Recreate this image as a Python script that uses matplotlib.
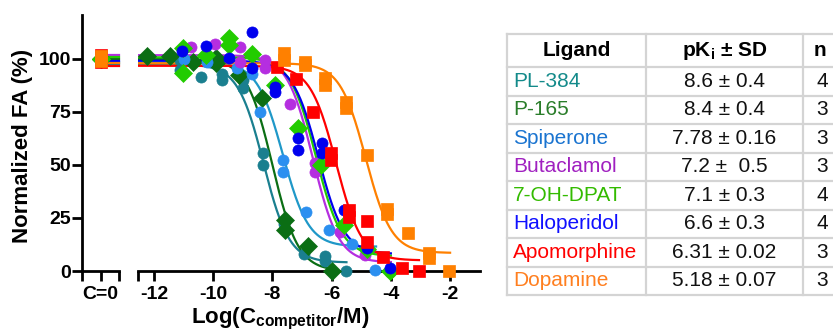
import numpy as np
import matplotlib
matplotlib.use('Agg')
import matplotlib.pyplot as plt

plt.rcParams['font.family'] = ['Liberation Sans', 'DejaVu Sans']
plt.rcParams['mathtext.fontset'] = 'custom'
plt.rcParams['mathtext.rm'] = 'Liberation Sans'
plt.rcParams['mathtext.bf'] = 'Liberation Sans:bold'
plt.rcParams['mathtext.it'] = 'Liberation Sans:italic'

# ---------------- data ----------------
ligands = ['PL-384', 'P-165', 'Spiperone', 'Butaclamol', '7-OH-DPAT',
           'Haloperidol', 'Apomorphine', 'Dopamine']
pki_text = ['8.6 ± 0.4', '8.4 ± 0.4', '7.78 ± 0.16', '7.2 ±  0.5', '7.1 ± 0.3',
            '6.6 ± 0.3', '6.31 ± 0.02', '5.18 ± 0.07']
n_text = ['4', '3', '3', '3', '4', '4', '3', '3']

pl384_x = [-11.12, -11.12, -10.40, -9.70, -9.70, -8.99, -8.99, -8.33, -8.33, -7.60, -6.95, -6.22, -6.22, -5.53]
pl384_y = [99.5, 95, 91.5, 93, 90, 90, 86.5, 55.5, 50, 22, 8, 7, 4.5, 0]
p165_x = [-12.24, -11.46, -10.68, -9.90, -9.90, -9.13, -8.35, -7.57, -7.57, -6.80, -6.00]
p165_y = [101.5, 101.5, 98.5, 100.5, 98, 92.5, 81.5, 24, 19.5, 12, 0]
spip_x = [-11.00, -10.20, -9.20, -8.70, -8.42, -7.64, -7.64, -6.86, -6.09, -5.30, -4.53]
spip_y = [100, 98.5, 95.8, 93, 75, 52.4, 46.7, 27.8, 19.3, 12.8, 0.3]
buta_x = [-10.75, -9.94, -9.09, -9.09, -8.25, -8.25, -7.41, -6.56, -6.56, -5.72, -4.88, -4.03]
buta_y = [105.5, 107, 105.5, 98.5, 99.5, 95.8, 79, 51, 46.5, 18.5, 7.5, -0.5]
dpat_x = [-11.02, -11.02, -10.24, -9.47, -9.47, -8.69, -7.91, -7.13, -6.36, -5.58, -4.80, -4.03]
dpat_y = [105, 93.5, 102, 110, 106.5, 102.5, 87.5, 67.5, 50, 21.5, 10.5, 0]
halo_x = [-11.05, -10.24, -9.47, -8.69, -8.69, -7.91, -7.91, -7.13, -7.13, -6.32, -6.32, -5.58, -4.80, -4.03]
halo_y = [104, 106, 100.5, 112.5, 95.8, 86.8, 84.4, 62.7, 57, 60.4, 55.7, 28.8, 10.8, 1.5]
apo_x = [-7.84, -7.20, -6.63, -6.02, -6.02, -5.41, -5.41, -4.82, -4.82, -4.25, -3.63, -3.04]
apo_y = [96.2, 90.5, 75, 55.7, 52.4, 29, 25.5, 23.7, 13.8, 6.8, 1.3, 0.2]
dopa_x = [-7.61, -7.61, -6.90, -6.90, -6.22, -6.22, -5.51, -5.51, -4.80, -4.13, -4.13, -3.41, -2.72, -2.72, -2.03]
dopa_y = [102.8, 99.5, 98.6, 97.2, 91, 87.7, 79.7, 76.9, 54.7, 29.2, 27, 18, 8.5, 6, 0]

xs = [pl384_x, p165_x, spip_x, buta_x, dpat_x, halo_x, apo_x, dopa_x]
ys = [pl384_y, p165_y, spip_y, buta_y, dpat_y, halo_y, apo_y, dopa_y]

# control (C=0) values
c0_y = [[100, 100], [100, 100], [100, 100], [100, 100], [100, 100],
        [100, 100], [98.5, 102], [99, 101.5]]

# one-site fit parameters
log_ic50 = [-8.30, -8.00, -7.65, -6.63, -6.53, -6.45, -5.85, -4.85]
fit_top = [97.5, 100, 98.5, 101.8, 100.8, 99.2, 96.8, 98.0]
fit_bottom = [4, 0, 11.5, 4, 7, 8, 5, 8.5]
fit_end = [-5.5, -6.0, -4.5, -4.0, -4.0, -4.0, -3.05, -2.0]

point_colors = ['#1a7f8f', '#0b6e14', '#2b8ff0', '#b52ee0', '#22cc00',
                '#0000ee', '#ff0000', '#ff8000']
line_colors = ['#1a7f8f', '#0b6e14', '#1f98c8', '#b52ee0', '#22cc00',
               '#0000ee', '#ff0000', '#ff8000']
text_colors = ['#138a8a', '#2a7d2a', '#1a74d0', '#a020c0', '#33bb00',
               '#1010ff', '#ff0000', '#ff7f1f']
markers = ['o', 'D', 'o', 'o', 'D', 'o', 's', 's']
msizes = [8, 9.5, 8, 8, 9.5, 8, 8.5, 8.5]
draw_order = [0, 2, 5, 3, 4, 1, 6, 7]

# ---------------- figure ----------------
W, H = 833, 333
fig = plt.figure(figsize=(W / 100, H / 100), dpi=100)

y_lo, y_hi = 0, 120.75
right_xlim = (-12.54, -0.99)

axL = fig.add_axes([82 / W, (H - 271) / H, (119 - 82) / W, (271 - 15) / H])
axR = fig.add_axes([138 / W, (H - 271) / H, (480 - 138) / W, (271 - 15) / H])

for ax in (axL, axR):
    ax.set_ylim(y_lo, y_hi)
    ax.patch.set_alpha(0)
    for s in ('top', 'right'):
        ax.spines[s].set_visible(False)
    ax.spines['bottom'].set_linewidth(2.0)
    ax.spines['left'].set_linewidth(2.0)
    ax.tick_params(width=2.0, length=7, labelsize=14, direction='out')

axL.set_xlim(-1, 1)
axR.set_xlim(*right_xlim)
axR.spines['left'].set_visible(False)
axR.tick_params(axis='y', left=False, labelleft=False)

axL.set_yticks([0, 25, 50, 75, 100])
axL.set_yticklabels(['0', '25', '50', '75', '100'], fontweight='bold')
axL.tick_params(axis='y', pad=1)
axL.set_xticks([-1, 0, 1])
axL.set_xticklabels(['', 'C=0', ''], fontweight='bold')

xt = [right_xlim[0], -12, -10, -8, -6, -4, -2]
axR.set_xticks(xt)
axR.set_xticklabels([''] + [str(v) for v in [-12, -10, -8, -6, -4, -2]],
                    fontweight='bold')

for i in draw_order:
    # fitted curve
    xc = np.linspace(right_xlim[0], fit_end[i], 300)
    yc = fit_bottom[i] + (fit_top[i] - fit_bottom[i]) / (1 + 10 ** (xc - log_ic50[i]))
    axR.plot(xc, yc, color=line_colors[i], lw=1.6, zorder=2 + i * 0.01)
    axR.plot(xs[i], ys[i], linestyle='none', marker=markers[i], ms=msizes[i],
             color=point_colors[i], mec=point_colors[i], mew=0.5, clip_on=False,
             zorder=3 + i * 0.01)
    # control segment
    axL.plot([0, 1], [fit_top[i], fit_top[i]], color=line_colors[i], lw=1.6,
             clip_on=False, zorder=2 + i * 0.01)
    axL.plot([0] * len(c0_y[i]), c0_y[i], linestyle='none', marker=markers[i],
             ms=msizes[i], color=point_colors[i], mec=point_colors[i], mew=0.5,
             clip_on=False, zorder=3 + i * 0.01)

fig.text(23 / W, 1 - 146 / H, 'Normalized FA (%)', rotation=90, ha='center',
         va='center', fontsize=16, fontweight='bold')
fig.text(280 / W, 1 / H, r'Log(C$_{\mathbf{competitor}}$/M)', ha='center',
         va='bottom', fontsize=16, fontweight='bold')

# ---------------- table ----------------
tab = fig.add_axes([0, 0, 1, 1])
tab.set_xlim(0, W)
tab.set_ylim(H, 0)
tab.axis('off')
tab.patch.set_alpha(0)

grid_c = '#d4d4d4'
row_edges = [34, 67] + [67 + 28.5 * (k + 1) for k in range(len(ligands))]
col_edges = [507, 646, 803, 850]
for yv in row_edges:
    tab.plot([col_edges[0], col_edges[-1]], [yv, yv], color=grid_c, lw=1.6, clip_on=False)
for xv in col_edges:
    tab.plot([xv, xv], [row_edges[0], row_edges[-1]], color=grid_c, lw=1.6, clip_on=False)

hy = (row_edges[0] + row_edges[1]) / 2
tab.text((col_edges[0] + col_edges[1]) / 2, hy, 'Ligand', ha='center', va='center',
         fontsize=15, fontweight='bold')
tab.text((col_edges[1] + col_edges[2]) / 2, hy, r'pK$_{\mathbf{i}}$ ± SD', ha='center',
         va='center', fontsize=15, fontweight='bold')
tab.text(820, hy, 'n', ha='center', va='center', fontsize=15, fontweight='bold')

for k, name in enumerate(ligands):
    yc_ = (row_edges[k + 1] + row_edges[k + 2]) / 2
    tab.text(col_edges[0] + 6, yc_, name, ha='left', va='center', fontsize=15,
             color=text_colors[k])
    tab.text((col_edges[1] + col_edges[2]) / 2, yc_, pki_text[k], ha='center',
             va='center', fontsize=15, color='#111111')
    tab.text(822, yc_, n_text[k], ha='center', va='center', fontsize=15, color='#111111')

fig.savefig('out.png', dpi=100)
